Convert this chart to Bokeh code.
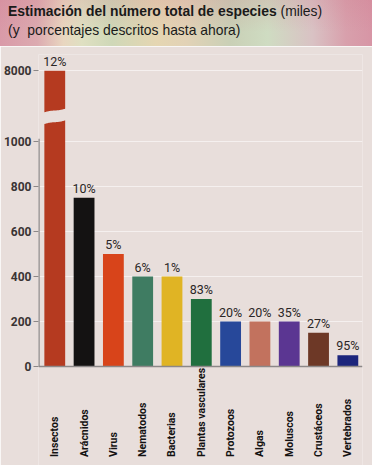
import numpy as np
from bokeh.plotting import figure
from bokeh.models import ColumnDataSource, FixedTicker, Span, Div
from bokeh.layouts import column
from bokeh.embed import file_html
from bokeh.resources import INLINE
from bokeh.core.properties import value

# ---------------- data ----------------
categories = ["Insectos", "Arácnidos", "Virus", "Nematodos", "Bacterias",
              "Plantas vasculares", "Protozoos", "Algas", "Moluscos",
              "Crustáceos", "Vertebrados"]
especies_miles = [8000, 750, 500, 400, 400, 300, 200, 200, 200, 150, 50]
porcentaje_descrito = ["12%", "10%", "5%", "6%", "1%", "83%", "20%", "20%",
                       "35%", "27%", "95%"]
bar_colors = ["#b53a20", "#141212", "#d8441a", "#3f7c62", "#e0b424",
              "#206f3e", "#27489a", "#c2725e", "#5b3692", "#6d3826", "#1c257c"]
y_ticks = [0, 200, 400, 600, 800, 1000]
break_value = 8000
break_tick_label = "8000"

# ---------------- broken-axis settings ----------------
AXIS_MAX = 1000
BREAK_LO, BREAK_HI = 1086, 1138
TOP_DISPLAY = 1315
Y_START, Y_END = -440, 1387
LABEL_Y = -402
X_START = -0.555
BG = "#e8dedb"
AX = "#8c8888"
NUMF = "Roboto"


def to_display(v):
    return v if v <= AXIS_MAX else TOP_DISPLAY * v / break_value


idx = list(range(len(categories)))
src = ColumnDataSource(dict(
    x=idx,
    cat=categories,
    top=[to_display(v) for v in especies_miles],
    pct=porcentaje_descrito,
    color=bar_colors,
    lab_y=[LABEL_Y] * len(categories),
))

p = figure(width=372, height=419, x_range=(X_START, len(categories) - 0.5),
           y_range=(Y_START, Y_END), output_backend="svg", toolbar_location=None,
           min_border_left=34, min_border_right=10, min_border_top=8,
           min_border_bottom=0)
p.background_fill_color = BG
p.border_fill_color = BG
p.outline_line_color = None
p.xaxis.visible = False
p.xgrid.visible = False

yax = p.yaxis[0]
yax.ticker = FixedTicker(ticks=y_ticks + [TOP_DISPLAY])
yax.major_label_overrides = {TOP_DISPLAY: break_tick_label}
yax.axis_line_color = None
yax.major_tick_line_color = AX
yax.major_tick_out = 5
yax.major_tick_in = 0
yax.minor_tick_line_color = None
yax.major_label_standoff = 2
yax.major_label_text_font = NUMF
yax.major_label_text_font_size = "12px"
yax.major_label_text_font_style = "bold"
yax.major_label_text_color = "#3a3434"

p.ygrid.ticker = FixedTicker(ticks=y_ticks[1:] + [TOP_DISPLAY])
p.ygrid.grid_line_color = "white"
p.ygrid.grid_line_alpha = 0.55

# axis line only over the unbroken part of the scale
p.segment(x0=[X_START], y0=[y_ticks[0]], x1=[X_START], y1=[y_ticks[-1] + 12],
          line_color=AX, line_width=2.4)

p.vbar(x="x", top="top", width=0.71, color="color", line_color=None, source=src)

# break in the tallest bar (wavy gap)
for i, v in enumerate(especies_miles):
    if v > AXIS_MAX:
        xs = np.linspace(i - 0.42, i + 0.42, 40)
        t = (xs - xs[0]) / (xs[-1] - xs[0])
        off = -10 * np.cos(np.pi * t) + 4 * np.sin(2 * np.pi * t)
        p.patch(np.concatenate([xs, xs[::-1]]),
                np.concatenate([BREAK_HI + off, (BREAK_LO + off)[::-1]]),
                fill_color=BG, line_color=None)

p.add_layout(Span(location=0, dimension="width", line_color=AX,
                  line_width=1.3))

p.text(x="x", y="top", text="pct", source=src, y_offset=-2,
       text_align="center", text_baseline="bottom",
       text_font=value(NUMF), text_font_size="12.5px", text_color="#2a2626")

p.text(x="x", y="lab_y", text="cat", source=src, angle=np.pi / 2,
       text_align="left", text_baseline="middle",
       text_font=value(NUMF), text_font_size="10.5px",
       text_font_style="bold", text_color="#141212")

title = Div(
    text="<b>Estimación del número total de especies</b> (miles)<br>"
         "(y&nbsp; porcentajes descritos hasta ahora)",
    width=372, height=46, margin=0,
    styles={
        "box-sizing": "border-box",
        "padding": "2px 0 0 8px",
        "font-family": "'Liberation Sans', Arial, sans-serif",
        "font-size": "13.9px",
        "line-height": "19px",
        "color": "#1a1a1a",
        "background": "linear-gradient(to bottom, rgba(205,110,130,0.18), rgba(255,255,255,0) 70%), "
                      "linear-gradient(to right, #d99aa8 0%, #dcaab0 10%, #e9d6c0 17%, #dfe0c2 22%, "
                      "#cfd8b8 30%, #e5d6b2 42%, #e2d2b6 50%, #c9d0b6 62%, #cfdcc2 72%, "
                      "#d9c2c4 84%, #d8a0ac 93%, #d795a5 100%)",
    },
)

layout = column(title, p, spacing=0)
open("out.html", "w").write(file_html(layout, INLINE))
